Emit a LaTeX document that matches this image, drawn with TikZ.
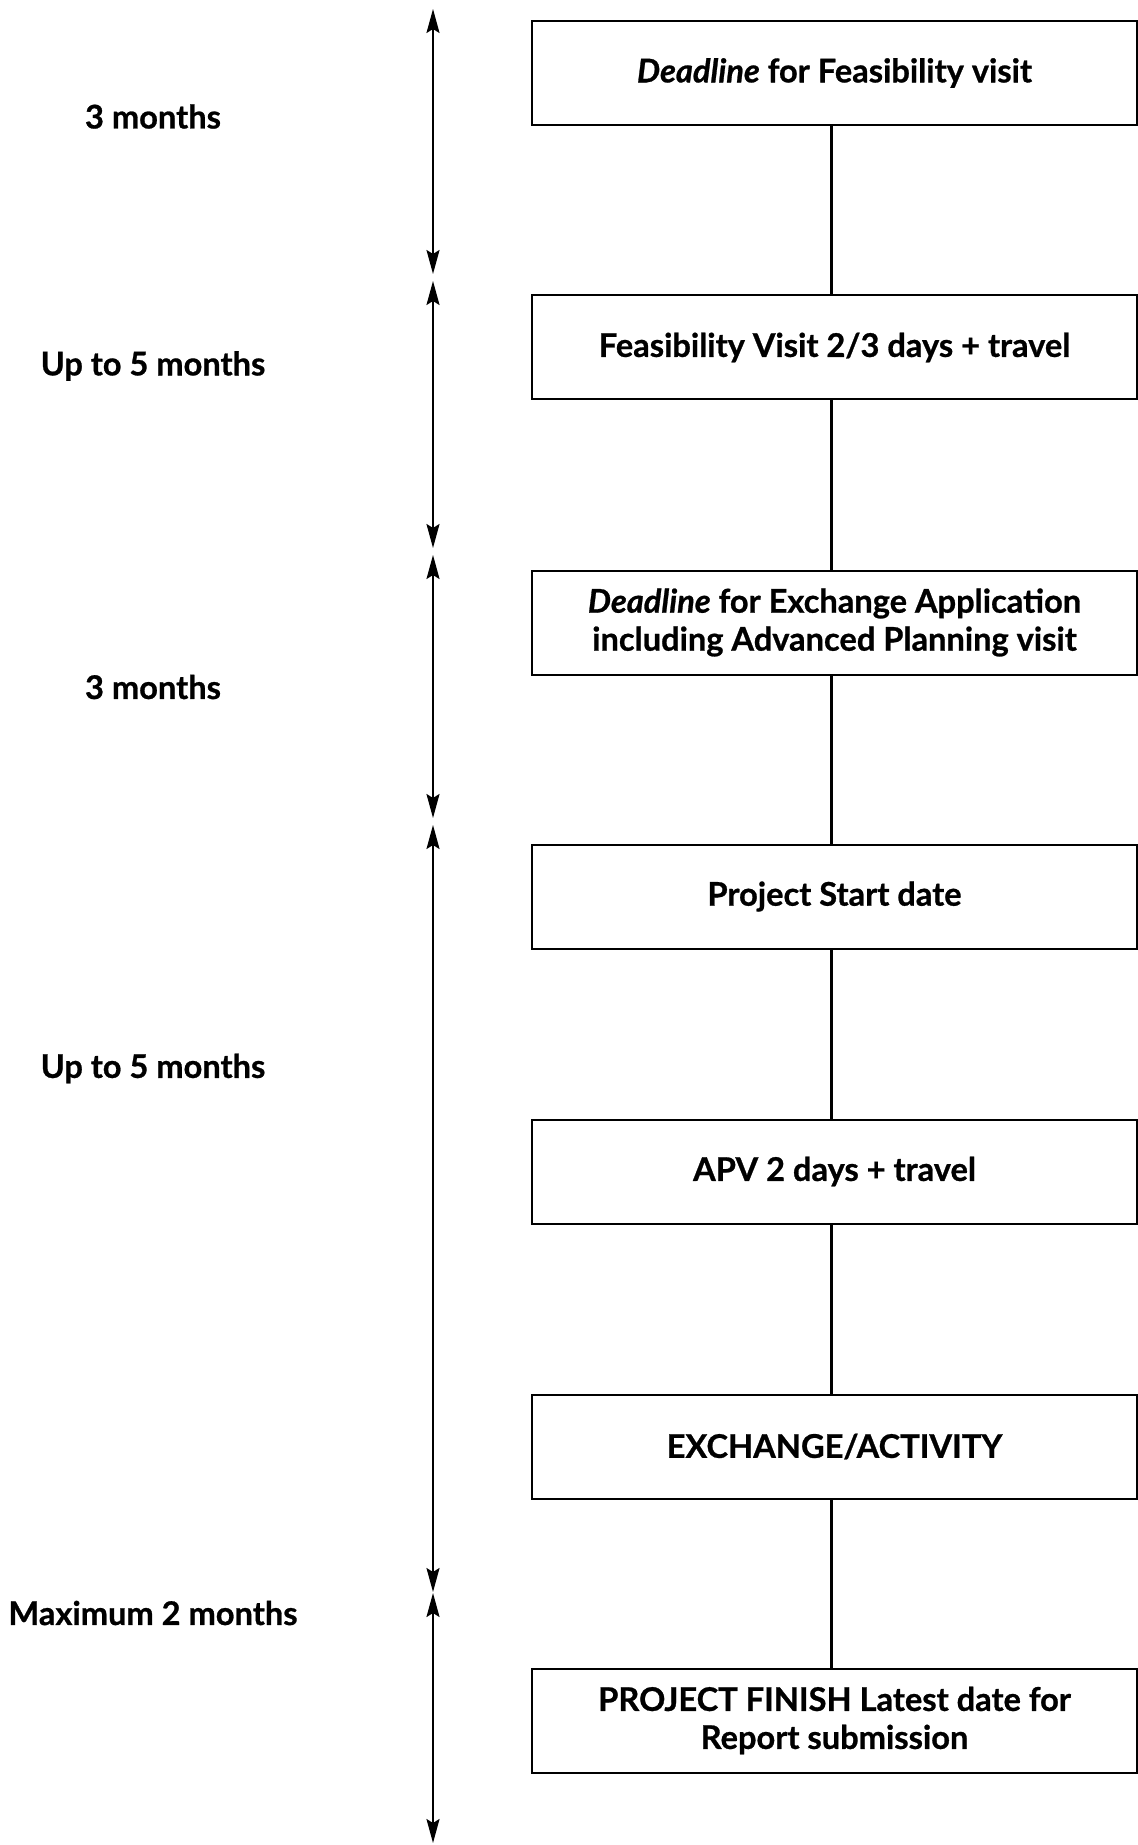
\documentclass[tikz,border=0pt]{standalone}
\usepackage{fontspec}
\setmainfont{Lato}[BoldFeatures={FakeBold=0.8},BoldItalicFeatures={FakeBold=0.8}]
\usetikzlibrary{arrows.meta}

\begin{document}
\begin{tikzpicture}[x=0.5pt,y=-0.5pt,>={Stealth[length=12pt,width=6.5pt,inset=2pt]},
  font=\fontsize{16.3}{19}\selectfont\bfseries,
  stage/.style={draw,line width=1pt,minimum width=302.5pt,minimum height=52pt,align=center,inner sep=0pt},
  span/.style={<->,line width=1pt},
  link/.style={line width=1.4pt}]
\useasboundingbox (0,0) rectangle (1138,1845);
\node[stage] (b1) at (834.5,73) {\textit{Deadline} for Feasibility visit};
\node[stage] (b2) at (834.5,347.5) {Feasibility Visit 2/3 days + travel};
\node[stage] (b3) at (834.5,622.5) {\textit{Deadline} for Exchange Application\\including Advanced Planning visit};
\node[stage] (b4) at (834.5,896.5) {Project Start date};
\node[stage] (b5) at (834.5,1171.5) {APV 2 days + travel};
\node[stage] (b6) at (834.5,1446.5) {EXCHANGE/ACTIVITY};
\node[stage] (b7) at (834.5,1720.5) {PROJECT FINISH Latest date for\\Report submission};
\draw[link] ([xshift=-1.5pt]b1.south) -- ([xshift=-1.5pt]b2.north);
\draw[link] ([xshift=-1.5pt]b2.south) -- ([xshift=-1.5pt]b3.north);
\draw[link] ([xshift=-1.5pt]b3.south) -- ([xshift=-1.5pt]b4.north);
\draw[link] ([xshift=-1.5pt]b4.south) -- ([xshift=-1.5pt]b5.north);
\draw[link] ([xshift=-1.5pt]b5.south) -- ([xshift=-1.5pt]b6.north);
\draw[link] ([xshift=-1.5pt]b6.south) -- ([xshift=-1.5pt]b7.north);
\coordinate (t1) at (433,9);
\coordinate (e1) at (433,274);
\coordinate (t2) at (433,281);
\coordinate (e2) at (433,548);
\coordinate (t3) at (433,555);
\coordinate (e3) at (433,818);
\coordinate (t4) at (433,825);
\coordinate (e4) at (433,1592);
\coordinate (t5) at (433,1593);
\coordinate (e5) at (433,1843);
\draw[span] (t1) -- (e1);
\draw[span] (t2) -- (e2);
\draw[span] (t3) -- (e3);
\draw[span] (t4) -- (e4);
\draw[span] (t5) -- (e5);
\node (l1) at (153,116.5) {3 months};
\node (l2) at (153,366) {Up to 5 months};
\node (l3) at (153,687) {3 months};
\node (l4) at (153,1068.5) {Up to 5 months};
\node (l5) at (153,1613) {Maximum 2 months};
\end{tikzpicture}
\end{document}
